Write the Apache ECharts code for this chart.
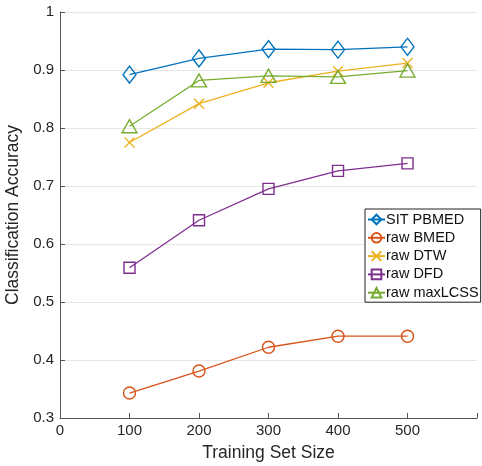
<!DOCTYPE html>
<html>
<head>
<meta charset="utf-8">
<script src="https://cdn.jsdelivr.net/npm/echarts@6/dist/echarts.min.js"></script>
<style>
  html, body { margin: 0; padding: 0; background: #fff; }
  #chart { width: 482px; height: 466px; }
</style>
</head>
<body>
<div id="chart"></div>
<script>
// Training set sizes (x) and accuracy per method
const trainingSizes = [100, 200, 300, 400, 500];
const sitPbmed   = [0.892, 0.920, 0.936, 0.935, 0.940];
const rawBmed    = [0.343, 0.381, 0.422, 0.441, 0.441];
const rawDtw     = [0.775, 0.842, 0.878, 0.898, 0.912];
const rawDfd     = [0.559, 0.641, 0.695, 0.726, 0.739];
const rawMaxLcss = [0.803, 0.882, 0.890, 0.888, 0.899];
const xTicks = [0, 100, 200, 300, 400, 500];
const yTicks = [0.3, 0.4, 0.5, 0.6, 0.7, 0.8, 0.9, 1];

const FONT = 'Liberation Sans';
const TEXT = '#262626';

function pairs(vals) { return trainingSizes.map((x, i) => [x, vals[i]]); }

function mk(name, vals, color, symbol, size) {
  return {
    name, type: 'line', data: pairs(vals),
    symbol, symbolSize: size, showAllSymbol: true,
    lineStyle: { color, width: 1.3 },
    itemStyle: { color: 'rgba(255,255,255,0)', borderColor: color, borderWidth: 1.4 },
    emphasis: { disabled: true },
    animation: false
  };
}

const chart = echarts.init(document.getElementById('chart'), null, { renderer: 'canvas' });
chart.setOption({
  animation: false,
  textStyle: { fontFamily: FONT },
  grid: { left: 60, right: 5, top: 12, bottom: 48, containLabel: false, outerBoundsMode: 'none' },
  xAxis: {
    type: 'value', min: 0, max: 600, interval: 100,
    name: 'Training Set Size', nameLocation: 'middle', nameGap: 26,
    nameTextStyle: { fontSize: 17.5, color: TEXT, fontFamily: FONT },
    axisLine: { lineStyle: { color: '#555', width: 1 } },
    axisTick: { inside: true, length: 5, lineStyle: { color: '#555' } },
    axisLabel: {
      fontSize: 15, color: TEXT, margin: 5, fontFamily: FONT,
      formatter: v => xTicks.includes(v) ? String(v) : ''
    },
    splitLine: { show: false }
  },
  yAxis: {
    type: 'value', min: 0.3, max: 1, interval: 0.1,
    name: 'Classification Accuracy', nameLocation: 'middle', nameGap: 27,
    nameTextStyle: { fontSize: 17.5, color: TEXT, fontFamily: FONT },
    axisLine: { show: true, lineStyle: { color: '#555', width: 1 } },
    axisTick: { show: true, inside: true, length: 5, lineStyle: { color: '#555' } },
    axisLabel: {
      fontSize: 15, color: TEXT, margin: 6, fontFamily: FONT,
      formatter: v => {
        const t = yTicks.find(y => Math.abs(y - v) < 1e-6);
        return t === undefined ? '' : String(t);
      }
    },
    splitLine: { show: true, lineStyle: { color: '#e6e6e6', width: 1 } }
  },
  legend: {
    orient: 'vertical', left: 365, top: 209,
    itemWidth: 17, itemHeight: 12, itemGap: 3.3,
    padding: [3, 2, 2, 2],
    backgroundColor: '#fff', borderColor: '#222', borderWidth: 1,
    textStyle: { fontSize: 14.5, lineHeight: 15, color: '#111', fontFamily: FONT, padding: [0, 0, 0, -4] },
    data: ['SIT PBMED', 'raw BMED', 'raw DTW', 'raw DFD', 'raw maxLCSS']
  },
  series: [
    mk('SIT PBMED', sitPbmed, '#0072BD', 'diamond', [13, 17]),
    mk('raw BMED', rawBmed, '#D95319', 'circle', 12),
    mk('raw DTW', rawDtw, '#EDB120', 'path://M0,0L10,10M10,0L0,10', 10),
    mk('raw DFD', rawDfd, '#7E2F8E', 'rect', 11),
    mk('raw maxLCSS', rawMaxLcss, '#77AC30', 'triangle', [15, 13])
  ]
});
</script>
</body>
</html>
